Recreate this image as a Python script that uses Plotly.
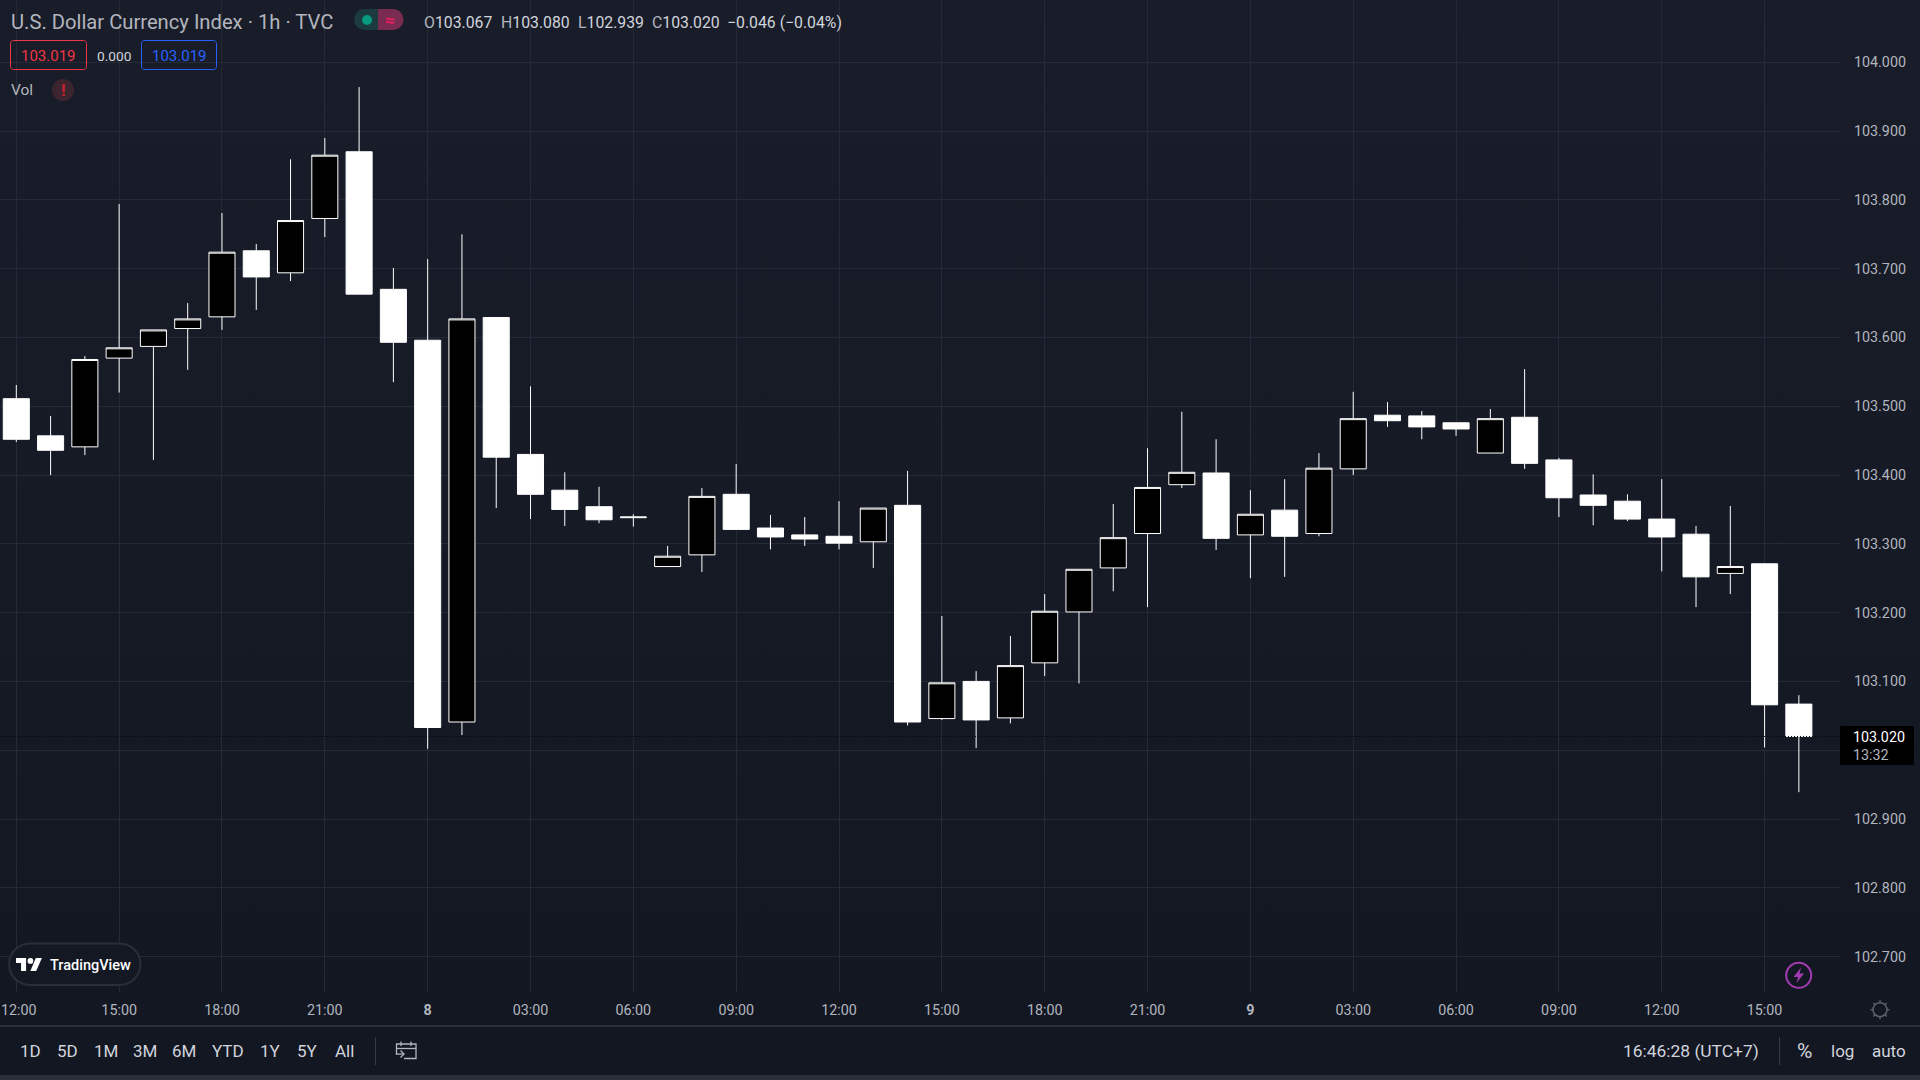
import base64
import math
import pandas as pd
import plotly.graph_objects as go

times = pd.date_range("2023-06-07 12:00", periods=53, freq="h").strftime("%Y-%m-%d %H:%M").tolist()
opens = [103.511,103.457,103.441,103.570,103.587,103.613,103.630,103.726,103.694,103.773,103.870,103.670,103.596,103.041,103.629,103.430,103.378,103.354,103.338,103.267,103.284,103.372,103.323,103.313,103.311,103.303,103.356,103.046,103.100,103.047,103.127,103.201,103.265,103.315,103.386,103.403,103.313,103.349,103.315,103.409,103.487,103.486,103.476,103.432,103.484,103.422,103.371,103.362,103.336,103.314,103.257,103.271,103.067]
highs = [103.531,103.486,103.573,103.794,103.611,103.650,103.781,103.736,103.859,103.890,103.964,103.701,103.714,103.750,103.629,103.529,103.404,103.383,103.343,103.297,103.381,103.416,103.342,103.339,103.362,103.352,103.406,103.195,103.115,103.166,103.227,103.263,103.358,103.439,103.492,103.452,103.378,103.394,103.432,103.521,103.506,103.493,103.476,103.496,103.554,103.425,103.401,103.372,103.394,103.326,103.355,103.272,103.080]
lows = [103.448,103.400,103.429,103.520,103.422,103.553,103.611,103.640,103.682,103.746,103.663,103.535,103.002,103.022,103.352,103.336,103.326,103.330,103.325,103.267,103.259,103.321,103.292,103.297,103.292,103.265,103.036,103.044,103.003,103.039,103.108,103.097,103.231,103.208,103.381,103.291,103.250,103.252,103.311,103.400,103.470,103.452,103.457,103.432,103.409,103.339,103.327,103.333,103.260,103.208,103.227,103.004,102.939]
closes = [103.452,103.436,103.568,103.585,103.611,103.627,103.724,103.688,103.770,103.865,103.663,103.593,103.033,103.627,103.426,103.372,103.350,103.335,103.339,103.282,103.369,103.321,103.310,103.307,103.301,103.352,103.041,103.098,103.044,103.123,103.202,103.263,103.309,103.382,103.404,103.308,103.343,103.311,103.410,103.482,103.479,103.470,103.467,103.482,103.417,103.367,103.356,103.336,103.310,103.252,103.267,103.066,103.020]

tick_times = ["2023-06-07 12:00","2023-06-07 15:00","2023-06-07 18:00","2023-06-07 21:00","2023-06-08 00:00","2023-06-08 03:00","2023-06-08 06:00","2023-06-08 09:00","2023-06-08 12:00","2023-06-08 15:00","2023-06-08 18:00","2023-06-08 21:00","2023-06-09 00:00","2023-06-09 03:00","2023-06-09 06:00","2023-06-09 09:00","2023-06-09 12:00","2023-06-09 15:00"]
tick_labels = ["","15:00","18:00","21:00","<b>8</b>","03:00","06:00","09:00","12:00","15:00","18:00","21:00","<b>9</b>","03:00","06:00","09:00","12:00","15:00"]
first_tick_label = "12:00"
price_ticks = [102.7,102.8,102.9,103.0,103.1,103.2,103.3,103.4,103.5,103.6,103.7,103.8,103.9,104.0]
price_labels = ["102.700","102.800","102.900","","103.100","103.200","103.300","103.400","103.500","103.600","103.700","103.800","103.900","104.000"]

W, H = 1920, 1080
FONT = "Roboto"
GREY = "#b2b5be"
LIGHT = "#d1d4dc"
X_RANGE = ["2023-06-07 11:31:28", "2023-06-09 17:12:00"]
Y_RANGE = [102.6485, 104.0906]


def px(x):
    return x / W


def py(y):
    return 1 - y / H


def poly(points, close=True):
    d = "M" + " L".join(f"{px(a):.5f},{py(b):.5f}" for a, b in points)
    return d + (" Z" if close else "")


def circle_path(cx, cy, r):
    x0, x1 = px(cx - r), px(cx + r)
    y0, y1 = py(cy + r), py(cy - r)
    return dict(type="circle", xref="paper", yref="paper", x0=x0, x1=x1, y0=y0, y1=y1)


shapes = []
annotations = []


def rect(x0, y0, x1, y1, fill=None, line=None, lw=1, layer="above"):
    shapes.append(dict(type="rect", xref="paper", yref="paper", x0=px(x0), x1=px(x1), y0=py(y1), y1=py(y0),
                       fillcolor=fill or "rgba(0,0,0,0)", line=dict(color=line or "rgba(0,0,0,0)", width=lw if line else 0), layer=layer))


def rrect_pts(x0, y0, x1, y1, r, n=6):
    pts = []
    for cx, cy, a0 in [(x1 - r, y0 + r, -90), (x1 - r, y1 - r, 0), (x0 + r, y1 - r, 90), (x0 + r, y0 + r, 180)]:
        for i in range(n + 1):
            a = math.radians(a0 + 90 * i / n)
            pts.append((cx + r * math.cos(a), cy + r * math.sin(a)))
    return pts


def path(points, fill=None, line=None, lw=1, close=True):
    shapes.append(dict(type="path", xref="paper", yref="paper", path=poly(points, close),
                       fillcolor=fill or "rgba(0,0,0,0)", line=dict(color=line or "rgba(0,0,0,0)", width=lw if line else 0), layer="above"))


def circ(cx, cy, r, fill=None, line=None, lw=1):
    s = circle_path(cx, cy, r)
    s.update(fillcolor=fill or "rgba(0,0,0,0)", line=dict(color=line or "rgba(0,0,0,0)", width=lw if line else 0), layer="above")
    shapes.append(s)


def text(x, y, s, size=14, color=GREY, anchor="left", weight=None):
    f = dict(family=FONT, size=size, color=color)
    if weight:
        f["weight"] = weight
    annotations.append(dict(xref="paper", yref="paper", x=px(x), y=py(y), text=s, showarrow=False,
                            xanchor=anchor, yanchor="middle", font=f, borderpad=0, borderwidth=0))


# last price line
shapes.append(dict(type="line", xref="paper", yref="y", x0=0, x1=px(1840), y0=closes[-1], y1=closes[-1],
                   line=dict(color="#000000", width=1, dash="1px,2px"), layer="above"))

# first time label, nudged so that it stays inside the window
text(1, 1010, first_tick_label, 14.3, GREY, "left")

# header
text(11, 22, "U.S. Dollar Currency Index · 1h · TVC", 20.2, GREY)
path([(366, 9), (378, 9), (378, 30), (366, 30)], fill="#1b3b3f")
circ(364.5, 19.5, 10.5, fill="#1b3b3f")
path([(378, 9), (392.5, 9), (392.5, 30), (378, 30)], fill="#7a2b50")
circ(393, 19.5, 10.5, fill="#7a2b50")
circ(367, 20, 5, fill="#089981")
text(390, 20, "≈", 17, "#e91e63", "center", 700)


def ohlc(label, value):
    return f'<span style="color:{GREY}">{label}</span>{value}'


x_pos = [423.6, 500.6, 578, 651.6, 727]
for xp, (lab, val) in zip(x_pos[:4], [("O", "103.067"), ("H", "103.080"), ("L", "102.939"), ("C", "103.020")]):
    text(xp, 23, ohlc(lab, val), 15.8, LIGHT)
text(x_pos[4], 23, "−0.046 (−0.04%)", 15.8, LIGHT)

path(rrect_pts(10.5, 40.5, 86.5, 69.5, 3), line="#f23645")
text(48.5, 55.5, "103.019", 15, "#f23645", "center")
text(113.5, 55.5, "0.000", 13.7, LIGHT, "center")
path(rrect_pts(141.5, 40.5, 216.5, 69.5, 3), line="#2962ff")
text(179, 55.5, "103.019", 15, "#2962ff", "center")
text(11, 90.5, "Vol", 15.5, GREY)
circ(63, 90, 11, fill="#3d2530")
text(63, 90, "!", 17, "#c8202f", "center", 700)

# current price tag
path(rrect_pts(1840, 726, 1914, 765, 2), fill="#000000")
text(1853, 736.5, "103.020", 14.3, "#ffffff")
text(1853, 755, "13:32", 14.3, GREY)

# TradingView badge
path(rrect_pts(9, 943.5, 140.5, 985, 20.7), fill="#141823", line="#2a2e39", lw=2)
L0, T0, S = 16, 955.2, 0.72
path([(L0 + a * S, T0 + b * S) for a, b in [(0, 4), (14, 4), (14, 22), (7, 22), (7, 11), (0, 11)]], fill="#ffffff")
path([(L0 + a * S, T0 + b * S) for a, b in [(27.5, 4), (36, 4), (28, 22), (20, 22)]], fill="#ffffff")
circ(L0 + 20 * S, T0 + 8 * S, 4 * S, fill="#ffffff")
text(50, 965, "TradingView", 14.5, "#ffffff", "left", 500)

# lightning badge
circ(1798.7, 975.3, 12.5, line="#a23bb3", lw=2)
path([(1801, 967.5), (1793.5, 977), (1798, 977), (1796.5, 983), (1804, 973.5), (1799.5, 973.5)], fill="#a23bb3")

# settings icon
circ(1880, 1009.7, 7, line="#5d606b", lw=1.5)
for k in range(8):
    a = math.radians(45 * k)
    path([(1880 + 7 * math.cos(a), 1009.7 + 7 * math.sin(a)), (1880 + 9.5 * math.cos(a), 1009.7 + 9.5 * math.sin(a))],
         line="#5d606b", lw=1.5, close=False)

# time axis separator and bottom toolbar
rect(0, 1025, 1920, 1027, fill="#2a2e39")
rect(0, 1027, 1920, 1075, fill="#131722")
rect(0, 1075, 1920, 1080, fill="#2a2e39")
toolbar_labels = ["1D", "5D", "1M", "3M", "6M", "YTD", "1Y", "5Y", "All"]
toolbar_x = [30.4, 67.4, 106, 145, 184, 227.7, 270, 307, 344]
for tx, lab in zip(toolbar_x, toolbar_labels):
    text(tx, 1051, lab, 17, LIGHT, "center")
rect(375, 1037, 376, 1065, fill="#363a45")
rect(1779, 1037, 1780, 1065, fill="#363a45")
path([(396.5, 1055), (396.5, 1044), (416, 1044), (416, 1058.5), (404, 1058.5)], line=GREY, lw=1.3, close=False)
path([(396.5, 1048.5), (416, 1048.5)], line=GREY, lw=1.3, close=False)
path([(401, 1041.5), (401, 1046)], line=GREY, lw=1.3, close=False)
path([(411, 1041.5), (411, 1046)], line=GREY, lw=1.3, close=False)
path([(396, 1054), (404, 1054)], line=GREY, lw=1.3, close=False)
path([(400.5, 1050.5), (404, 1054), (400.5, 1057.5)], line=GREY, lw=1.3, close=False)
text(1623, 1051, "16:46:28 (UTC+7)", 17.4, LIGHT)
text(1804, 1051, "%", 21, LIGHT, "center")
text(1842, 1051, "log", 17, LIGHT, "center")
text(1889, 1051, "auto", 17, LIGHT, "center")

gradient = ('<svg xmlns="http://www.w3.org/2000/svg" width="10" height="100" preserveAspectRatio="none">'
            '<defs><linearGradient id="g" x1="0" y1="0" x2="0" y2="1"><stop offset="0" stop-color="#191d29"/>'
            '<stop offset="1" stop-color="#131722"/></linearGradient></defs>'
            '<rect width="10" height="100" fill="url(#g)"/></svg>')
gradient_uri = "data:image/svg+xml;base64," + base64.b64encode(gradient.encode()).decode()

fig = go.Figure(go.Candlestick(
    x=times, open=opens, high=highs, low=lows, close=closes,
    increasing=dict(fillcolor="#000000", line=dict(color="#ffffff", width=1)),
    decreasing=dict(fillcolor="#ffffff", line=dict(color="#ffffff", width=1)),
    whiskerwidth=0, hoverinfo="skip", showlegend=False,
))
fig.update_layout(
    width=W, height=H, margin=dict(l=0, r=0, t=0, b=0), autosize=False,
    paper_bgcolor="#131722", plot_bgcolor="rgba(0,0,0,0)", showlegend=False,
    boxgap=0.24, boxgroupgap=0,
    font=dict(family=FONT, size=14, color=GREY),
    shapes=shapes, annotations=annotations,
    images=[dict(source=gradient_uri, xref="paper", yref="paper", x=0, y=1, sizex=1, sizey=1026 / H,
                 sizing="stretch", xanchor="left", yanchor="top", layer="below")],
    xaxis=dict(domain=[0, 1840 / W], range=X_RANGE, type="date", rangeslider=dict(visible=False),
               tickmode="array", tickvals=tick_times, ticktext=tick_labels, showgrid=True, gridcolor="#262a36", gridwidth=1,
               ticks="", showline=False, zeroline=False, tickfont=dict(family=FONT, size=14.3, color=GREY),
               ticklabelstandoff=8, anchor="y"),
    yaxis=dict(domain=[1 - 992 / H, 1], range=Y_RANGE, side="right", tickmode="array", tickvals=price_ticks,
               ticktext=price_labels, showgrid=True, gridcolor="#262a36", gridwidth=1, ticks="", showline=False,
               zeroline=False, tickfont=dict(family=FONT, size=14.3, color=GREY), ticklabelstandoff=13, anchor="x"),
)
fig.write_html("out.html", config=dict(displayModeBar=False),
               post_script="document.body.style.margin='0';document.body.style.background='#131722';")
